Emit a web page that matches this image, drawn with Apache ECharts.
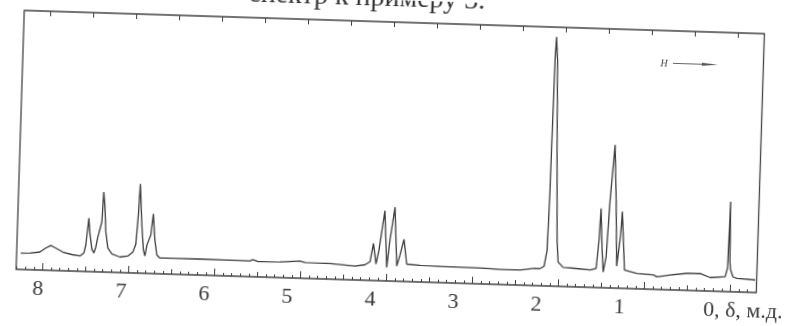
<!DOCTYPE html>
<html><head><meta charset="utf-8">
<script src="https://cdn.jsdelivr.net/npm/echarts@6/dist/echarts.min.js"></script>
<style>
html,body{margin:0;padding:0;background:#fff;overflow:hidden;width:792px;height:326px}
#c{position:absolute;left:0;top:0;width:792px;height:326px;transform:rotate(1.8deg);transform-origin:390px 152px;}
</style></head><body><div id="c"></div>
<script>
// ---- data (chemical shift, ppm / relative intensity) ----
const shiftPpm = [
  8.260,8.155,8.039,7.971,7.913,7.855,7.772,7.666,7.572,7.527,7.507,7.490,7.481,7.465,7.436,7.411,
  7.390,7.370,7.347,7.329,7.317,7.300,7.279,7.250,7.201,7.107,7.014,6.958,6.926,6.907,6.895,6.863,
  6.836,6.817,6.797,6.776,6.755,6.733,6.706,6.678,6.642,6.467,6.176,5.885,5.594,5.560,5.501,5.245,
  5.012,4.954,4.663,4.371,4.255,
  4.198,4.164,4.128,4.098,4.070,4.043,4.002,3.974,3.927,3.886,3.852,3.811,3.771,3.616,3.258,2.917,
  2.684,2.451,2.277,2.219,
  2.173,2.144,2.132,2.126,2.121,2.112,2.092,2.065,2.032,2.012,1.952,1.812,1.637,1.568,
  1.544,1.532,1.505,1.485,1.456,1.430,1.392,1.360,1.330,1.295,1.283,1.257,1.238,1.093,
  0.899,0.858,0.821,0.705,0.512,0.357,0.239,0.065,0.040,0.028,0.015,0.005,-0.025,-0.072,-0.285
];
const intensity = [
  16.4,16.7,18.0,22.2,24.9,22.5,18.7,16.5,15.3,18.4,26.5,43.5,53.5,39.6,22.6,18.7,
  24.8,34.8,33.9,50.0,80.0,67.0,40.1,24.1,18.3,15.5,16.8,20.9,29.0,58.1,89.2,48.2,
  23.3,17.3,28.4,33.4,38.5,59.6,33.6,18.7,15.8,15.8,16.0,15.8,15.6,17.2,15.4,15.6,
  17.2,15.8,15.6,13.9,15.5,
  18.7,37.2,16.6,30.7,50.8,70.1,13.6,41.0,73.9,15.2,26.3,42.1,17.5,16.6,16.2,15.8,
  15.2,15.1,17.3,17.2,
  19.8,35.9,96.0,176.1,226.2,249.2,226.3,136.2,46.2,24.3,19.1,18.5,17.3,19.2,
  47.6,79.3,37.7,15.7,31.1,87.9,143.1,88.1,22.0,53.2,76.6,43.3,18.4,15.4,
  14.3,12.6,13.2,14.8,17.0,17.4,13.5,14.8,24.0,90.0,30.0,22.0,15.0,13.6,12.5
];
const majorTicks = [0,1,2,3,4,5,6,7,8];
const halfTicks = [0.5,1.5,2.5,3.5,4.5,5.5,6.5,7.5];
const topTicks = [0,0.5,1,1.5,2,2.5,3,3.5,4,4.5,5,5.5,6,6.5,7,7.5,8];
const tickLabels = ['8','7','6','5','4','3','2','1','0, δ, м.д.'];
const labelSlots = [8,7,6,5,4,3,2,1,-0.49];
const titleText = 'спектр к примеру 3.';
const fieldLabel = 'H';

// ---- layout ----
const ppmMin = -0.302, ppmMax = 8.308;
const lblMin = -0.644, lblMax = 8.269;
const minorTicks = [];
for (let i = -3; i <= 83; i++) { if (i % 5 !== 0) minorTicks.push(i / 10); }

const ink = '#3f3f3f';

function tickAxis(values, len, pos) {
  return {
    type: 'value', gridIndex: 0, min: ppmMin, max: ppmMax, inverse: true, position: pos || 'bottom',
    axisLine: { show: false },
    axisTick: { show: true, inside: true, length: len, customValues: values, lineStyle: { color: ink, width: 1 } },
    axisLabel: { show: false }, splitLine: { show: false }
  };
}

const chart = echarts.init(document.getElementById('c'), null, { renderer: 'canvas' });
chart.setOption({
  animation: false,
  backgroundColor: '#ffffff',
  grid: { left: 20, right: 31.5, top: 22, bottom: 45, show: true, borderColor: '#444', borderWidth: 1.3 },
  xAxis: [
    tickAxis(majorTicks, 7),
    tickAxis(halfTicks, 5),
    tickAxis(minorTicks, 3),
    tickAxis(topTicks, 5, 'top'),
    {
      type: 'value', gridIndex: 0, min: lblMin, max: lblMax, inverse: true, position: 'bottom',
      axisLine: { show: false }, axisTick: { show: false }, splitLine: { show: false },
      axisLabel: {
        show: true, customValues: labelSlots, margin: 8,
        color: '#3a3a3a', fontFamily: 'Liberation Serif', fontSize: 22,
        formatter: function (v) { const i = labelSlots.indexOf(v); return i >= 0 ? tickLabels[i] : ''; }
      }
    }
  ],
  yAxis: [{ type: 'value', min: 0, max: 259, show: false }],
  series: [{
    type: 'line', xAxisIndex: 0, yAxisIndex: 0, showSymbol: false, smooth: false,
    lineStyle: { color: '#3c3c3c', width: 1.3 },
    data: shiftPpm.map((p, i) => [p, intensity[i]])
  }],
  graphic: [
    { type: 'text', style: { text: titleText, x: 362, y: 13, font: '28px Liberation Serif', fill: '#333', textAlign: 'center', textVerticalAlign: 'bottom' } },
    { type: 'text', style: { text: fieldLabel, x: 661, y: 55, font: 'italic 10px Liberation Serif', fill: '#444', textAlign: 'center', textVerticalAlign: 'middle' } },
    { type: 'line', shape: { x1: 670, y1: 54.5, x2: 702, y2: 54.5 }, style: { stroke: '#555', lineWidth: 0.9 } },
    { type: 'polygon', shape: { points: [[699, 53], [715, 54.5], [699, 56]] }, style: { fill: '#555' } }
  ]
});
</script></body></html>
